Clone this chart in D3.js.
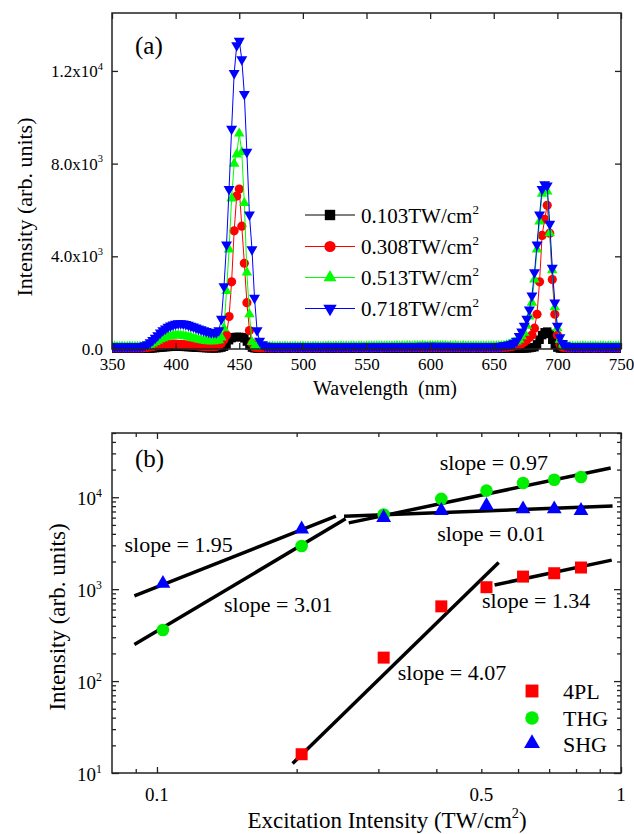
<!DOCTYPE html>
<html>
<head>
<meta charset="utf-8">
<script src="https://cdnjs.cloudflare.com/ajax/libs/d3/7.8.5/d3.min.js"></script>
<style>
  body { margin: 0; background: #fff; }
</style>
</head>
<body>
<script>
WIDTH = 634
HEIGHT = 834
FONT = "'Liberation Serif', Tinos, 'Times New Roman', 'DejaVu Serif', serif"

// ---------- data, panel (a): spectra read every 2 nm, 350 .. 750 nm ----------
var wavelengths = d3.range(350, 751, 2)
var powerLabels = ["0.103TW/cm", "0.308TW/cm", "0.513TW/cm", "0.718TW/cm"]

var spec103 = [
  10,10,10,10,10,10,10,10,10,10,
  10,10,10,10,10,20,30,40,50,60,
  70,80,90,95,100,100,100,100,95,90,
  85,80,70,60,55,50,45,40,35,30,
  30,30,40,60,100,200,380,470,510,520,
  520,510,460,320,150,60,30,20,15,10,
  10,10,10,10,10,10,10,10,10,10,
  10,10,10,10,10,10,10,10,10,10,
  10,10,10,10,10,10,10,10,10,10,
  10,10,10,10,10,10,10,10,10,10,
  10,10,10,10,10,10,10,10,10,10,
  10,10,10,10,10,10,10,10,10,10,
  10,10,10,10,10,10,10,10,10,10,
  10,10,10,10,10,10,10,10,10,10,
  10,10,10,10,10,10,10,10,10,10,
  10,10,10,10,10,10,10,10,15,20,
  20,20,25,30,40,60,80,200,400,600,
  720,750,650,400,180,60,20,10,10,10,
  10,10,10,10,10,10,10,10,10,10,
  10,10,10,10,10,10,10,10,10,10,
  10]

var spec308 = [
  50,50,50,50,50,50,50,50,50,50,
  50,50,50,60,70,90,110,130,150,170,
  180,190,200,210,210,210,200,200,190,180,
  170,160,150,140,130,120,110,100,100,100,
  100,110,150,250,400,600,1400,2900,5100,6600,
  6900,5300,3700,2000,800,250,80,60,50,50,
  50,60,50,50,60,50,50,60,50,50,
  60,50,50,60,50,50,60,50,50,60,
  50,50,60,50,50,60,50,60,50,50,
  60,50,60,50,60,60,50,60,60,50,
  60,60,50,60,60,60,50,60,60,60,
  60,60,70,60,60,70,60,60,70,60,
  70,60,70,70,60,70,70,60,70,60,
  60,70,60,60,60,70,60,60,60,60,
  60,60,50,60,60,50,60,60,50,60,
  50,50,60,60,70,80,90,110,130,150,
  180,230,300,400,500,600,900,1500,2900,4900,
  5600,6200,5000,3000,1500,600,200,80,60,50,
  50,50,60,50,50,60,50,50,60,50,
  50,60,50,50,60,50,50,60,50,50,
  50]

var spec513 = [
  90,100,90,90,100,90,90,100,90,90,
  90,90,100,110,140,180,240,300,360,420,
  470,510,540,560,580,590,590,580,570,550,
  530,500,470,440,410,390,370,350,340,340,
  340,360,380,500,900,2500,4300,6500,8000,8400,
  9300,8500,6300,3300,1500,300,110,90,90,90,
  90,100,90,100,90,90,100,90,100,90,
  100,90,100,90,100,100,90,100,90,100,
  100,100,90,100,100,110,100,100,110,100,
  110,100,110,100,110,110,100,110,110,100,
  110,110,120,110,110,120,110,120,120,110,
  120,120,130,120,130,120,130,130,120,130,
  130,130,140,130,130,140,130,130,140,130,
  130,130,120,130,120,130,120,120,130,120,
  120,120,110,120,110,110,120,110,110,120,
  110,110,120,130,140,160,190,230,280,330,
  400,550,700,1000,1400,2000,3000,4300,5500,6700,
  7000,6800,5000,3400,1800,900,400,200,120,100,
  100,100,90,100,100,110,100,100,110,100,
  110,100,110,110,100,110,110,100,110,110,
  110]

var spec718 = [
  100,100,110,100,100,110,100,100,110,100,
  100,110,120,150,200,280,380,480,590,700,
  800,880,950,1010,1050,1080,1100,1100,1090,1070,
  1040,1000,960,920,880,840,800,770,740,720,
  710,720,800,1300,2700,4500,6900,9500,11900,13100,
  13300,12500,11000,8500,5800,4300,2200,800,350,200,
  140,120,110,100,100,110,100,100,110,100,
  100,110,100,100,110,100,100,110,100,100,
  110,100,100,110,100,100,110,100,100,110,
  100,100,110,100,100,110,100,110,100,100,
  110,100,100,110,100,110,110,100,110,110,
  110,110,120,110,120,110,120,120,110,120,
  120,120,130,120,120,130,120,130,120,120,
  120,130,120,120,110,120,120,110,120,110,
  110,110,120,110,110,120,110,110,120,110,
  110,110,120,130,150,170,190,220,260,350,
  550,750,1000,1300,1700,2300,3300,4500,5800,6900,
  7100,7050,5400,3500,2000,1000,500,250,150,120,
  110,110,100,100,110,100,100,110,100,100,
  110,100,100,110,100,100,110,100,100,110,
  100]

var xTicksA = [350, 400, 450, 500, 550, 600, 650, 700, 750]
var yTicksA = [0, 4000, 8000, 12000]
var yTickBaseA = ["0.0", "4.0x10", "8.0x10", "1.2x10"]
var yTickSupA = ["", "3", "3", "4"]

// ---------- data, panel (b): power dependence ----------
var excitation = [0.103, 0.205, 0.308, 0.410, 0.513, 0.615, 0.718, 0.820]
var pl4 = [null, 16, 180, 650, 1050, 1370, 1490, 1720]
var thg = [360, 2950, 6500, 9600, 11800, 14300, 15500, 16600]
var shg = [1150, 4500, 6000, 7150, 8100, 7450, 7450, 7150]

// fitted lines: start and end points in data units
var fitX0 = [0.0894, 0.0894, 0.259, 0.253, 0.196, 0.534]
var fitY0 = [843, 250, 5260, 6220, 12.7, 1110]
var fitX1 = [0.243, 0.255, 0.950, 0.959, 0.545, 0.955]
var fitY1 = [6220, 5820, 20800, 8020, 1955, 2070]
var slopeText = ["slope = 1.95", "slope = 3.01", "slope = 0.97", "slope = 0.01", "slope = 4.07", "slope = 1.34"]
var slopeX = [0.0851, 0.1395, 0.4067, 0.4016, 0.3304, 0.5017]
var slopeY = [2535, 564, 19630, 3365, 103, 630]

var seriesNamesB = ["4PL", "THG", "SHG"]
var xLabelsB = [0.1, 0.5, 1]
var yMajorB = [10, 100, 1000, 10000]

// ---------- svg ----------
var svg = d3.select("body").append("svg")
  .attr("width", WIDTH)
  .attr("height", HEIGHT)
  .style("font-family", FONT)

var AXISCOLOR = "#222"

// text with an optional superscript part
function supText(g, x, y, base, sup, size, anchor, tail)
{
  var t = g.append("text")
    .attr("x", x).attr("y", y)
    .style("font-family", FONT)
    .attr("font-size", size)
    .attr("text-anchor", anchor)
  t.append("tspan").text(base)
  if (sup) {
    t.append("tspan").attr("dy", -0.42 * size).attr("font-size", size * 0.62).text(sup)
  }
  if (tail) {
    t.append("tspan").attr("dy", 0.42 * size).text(tail)
  }
  return t
}

function label(x, y, size, str)
{
  return svg.append("text")
    .attr("x", x).attr("y", y)
    .style("font-family", FONT)
    .attr("font-size", size)
    .text(str)
}

function symbolPath(type, size)
{
  return d3.symbol().type(type).size(size)()
}

// =============== panel (a) ===============
var A = {left: 112, right: 621, top: 13, bottom: 349}
var xa = d3.scaleLinear().domain([350, 750]).range([A.left, A.right])
var ya = d3.scaleLinear().domain([0, 14500]).range([A.bottom, A.top])

var colorsA = ["#000000", "#ff0000", "#00ff00", "#0000ff"]
var shapesA = [d3.symbolSquare, d3.symbolCircle, d3.symbolTriangle, d3.symbolTriangle]
var sizesA = [72, 66, 48, 52]
var rotA = [0, 0, 0, 180]
var spectra = [spec103, spec308, spec513, spec718]

svg.append("clipPath").attr("id", "clipa").append("rect")
  .attr("x", A.left).attr("y", A.top)
  .attr("width", A.right - A.left).attr("height", A.bottom - A.top + 4)

var gA = svg.append("g").attr("clip-path", "url(#clipa)")

spectra.forEach(function(vals, k)
{
  var pts = wavelengths.map(function(w, i) { return [w, vals[i]] })

  gA.append("path").datum(pts)
    .attr("fill", "none")
    .attr("stroke", colorsA[k])
    .attr("stroke-width", 1)
    .attr("d", d3.line().x(function(d) { return xa(d[0]) }).y(function(d) { return ya(d[1]) }))

  gA.selectAll(".ma" + k).data(pts).enter()
    .append("path").attr("class", "ma" + k)
    .attr("transform", function(d) { return "translate(" + xa(d[0]) + "," + ya(d[1]) + ") rotate(" + rotA[k] + ")" })
    .attr("d", symbolPath(shapesA[k], sizesA[k]))
    .attr("fill", colorsA[k])
})

// ticks on all four sides, pointing inwards
function styleAxis(g)
{
  g.select(".domain").remove()
  g.attr("font-family", null)
  g.selectAll("line").attr("stroke", AXISCOLOR).attr("stroke-width", 1.3)
  g.selectAll("text").style("font-family", FONT).attr("fill", "#000")
}

svg.append("g").attr("transform", "translate(0," + A.bottom + ")")
  .call(d3.axisBottom(xa).tickValues(xTicksA).tickSize(-6).tickPadding(9).tickFormat(d3.format("d")))
  .attr("font-size", 17)
  .call(styleAxis)
svg.append("g").attr("transform", "translate(0," + A.top + ")")
  .call(d3.axisTop(xa).tickValues(xTicksA).tickSize(-6).tickFormat(""))
  .call(styleAxis)
svg.append("g").attr("transform", "translate(" + A.left + ",0)")
  .call(d3.axisLeft(ya).tickValues(yTicksA).tickSize(-6).tickFormat(""))
  .call(styleAxis)
svg.append("g").attr("transform", "translate(" + A.right + ",0)")
  .call(d3.axisRight(ya).tickValues(yTicksA).tickSize(-6).tickFormat(""))
  .call(styleAxis)

yTicksA.forEach(function(v, i)
{
  supText(svg, A.left - 9, ya(v) + 6, yTickBaseA[i], yTickSupA[i], 17, "end")
})

svg.append("rect")
  .attr("x", A.left).attr("y", A.top)
  .attr("width", A.right - A.left).attr("height", A.bottom - A.top)
  .attr("fill", "none").attr("stroke", AXISCOLOR).attr("stroke-width", 1.5)

// titles
label(135, 54, 25, "(a)")
label(0, 0, 22, "Intensity (arb. units)")
  .attr("transform", "translate(24,207) rotate(-90)")
  .attr("text-anchor", "middle").attr("dominant-baseline", "central")
label(385, 395, 20, "Wavelength  (nm)")
  .attr("text-anchor", "middle")
  .style("white-space", "pre")

// legend (a)
var legA = [215, 246.5, 277.5, 308.5]
powerLabels.forEach(function(lab, k)
{
  svg.append("line")
    .attr("x1", 305).attr("x2", 355).attr("y1", legA[k]).attr("y2", legA[k])
    .attr("stroke", colorsA[k]).attr("stroke-width", 1)
  svg.append("path")
    .attr("transform", "translate(330," + legA[k] + ") rotate(" + rotA[k] + ")")
    .attr("d", symbolPath(shapesA[k], sizesA[k] * 1.5))
    .attr("fill", colorsA[k])
  supText(svg, 361, legA[k] + 7.5, lab, "2", 21, "start")
})

// =============== panel (b) ===============
var B = {left: 112, right: 621, top: 433, bottom: 773}
var xb = d3.scaleLog().domain([0.08, 1.0]).range([B.left, B.right])
var yb = d3.scaleLog().domain([10, 50000]).range([B.bottom, B.top])

var xMajorB = [0.1, 1]
var xMinorB = [0.09, 0.2, 0.3, 0.4, 0.5, 0.6, 0.7, 0.8, 0.9]
var yMinorB = []
yMajorB.forEach(function(d) {
  for (var m = 2; m <= 9; m++) { if (d * m <= 50000) yMinorB.push(d * m) }
})

svg.append("g").attr("transform", "translate(0," + B.bottom + ")")
  .call(d3.axisBottom(xb).tickValues(xMajorB).tickSize(-6).tickFormat("")).call(styleAxis)
svg.append("g").attr("transform", "translate(0," + B.bottom + ")")
  .call(d3.axisBottom(xb).tickValues(xMinorB).tickSize(-4).tickFormat("")).call(styleAxis)
svg.append("g").attr("transform", "translate(0," + B.top + ")")
  .call(d3.axisTop(xb).tickValues(xMajorB).tickSize(-6).tickFormat("")).call(styleAxis)
svg.append("g").attr("transform", "translate(0," + B.top + ")")
  .call(d3.axisTop(xb).tickValues(xMinorB).tickSize(-4).tickFormat("")).call(styleAxis)
svg.append("g").attr("transform", "translate(" + B.left + ",0)")
  .call(d3.axisLeft(yb).tickValues(yMajorB).tickSize(-7).tickFormat("")).call(styleAxis)
svg.append("g").attr("transform", "translate(" + B.left + ",0)")
  .call(d3.axisLeft(yb).tickValues(yMinorB).tickSize(-4).tickFormat("")).call(styleAxis)
svg.append("g").attr("transform", "translate(" + B.right + ",0)")
  .call(d3.axisRight(yb).tickValues(yMajorB).tickSize(-7).tickFormat("")).call(styleAxis)
svg.append("g").attr("transform", "translate(" + B.right + ",0)")
  .call(d3.axisRight(yb).tickValues(yMinorB).tickSize(-4).tickFormat("")).call(styleAxis)

xLabelsB.forEach(function(v)
{
  label(xb(v), 801, 19, v).attr("text-anchor", "middle")
})
yMajorB.forEach(function(v)
{
  supText(svg, 102, yb(v) + 8, "10", String(Math.round(Math.log10(v))), 19, "end")
})

svg.append("rect")
  .attr("x", B.left).attr("y", B.top)
  .attr("width", B.right - B.left).attr("height", B.bottom - B.top)
  .attr("fill", "none").attr("stroke", AXISCOLOR).attr("stroke-width", 1.5)

// fitted lines
fitX0.forEach(function(x0, i)
{
  svg.append("line")
    .attr("x1", xb(x0)).attr("y1", yb(fitY0[i]))
    .attr("x2", xb(fitX1[i])).attr("y2", yb(fitY1[i]))
    .attr("stroke", "#000").attr("stroke-width", 3.5)
})

// measured points
var colorsB = ["#ff0000", "#00ee00", "#0000ff"]
var shapesB = [d3.symbolSquare, d3.symbolCircle, d3.symbolTriangle]
var sizesB = [144, 125, 95]
var seriesB = [pl4, thg, shg]

seriesB.forEach(function(vals, k)
{
  var pts = excitation.map(function(x, i) { return [x, vals[i]] })
    .filter(function(d) { return d[1] != null })
  svg.selectAll(".mb" + k).data(pts).enter()
    .append("path").attr("class", "mb" + k)
    .attr("transform", function(d) { return "translate(" + xb(d[0]) + "," + yb(d[1]) + ")" })
    .attr("d", symbolPath(shapesB[k], sizesB[k]))
    .attr("fill", colorsB[k])
})

// slope annotations
slopeText.forEach(function(t, i)
{
  label(xb(slopeX[i]), yb(slopeY[i]), 22, t)
})

// legend (b)
var legB = [691, 718, 743.5]
seriesNamesB.forEach(function(name, k)
{
  svg.append("path")
    .attr("transform", "translate(532," + legB[k] + ")")
    .attr("d", symbolPath(shapesB[k], sizesB[k] * 1.15))
    .attr("fill", colorsB[k])
  label(563, legB[k] + 8, 22, name)
})

// titles (b)
label(135, 467, 25, "(b)")
label(0, 0, 23, "Intensity (arb. units)")
  .attr("transform", "translate(57,617) rotate(-90)")
  .attr("text-anchor", "middle").attr("dominant-baseline", "central")
supText(svg, 387, 828, "Excitation Intensity (TW/cm", "2", 23, "middle", ")")
</script>
</body>
</html>
